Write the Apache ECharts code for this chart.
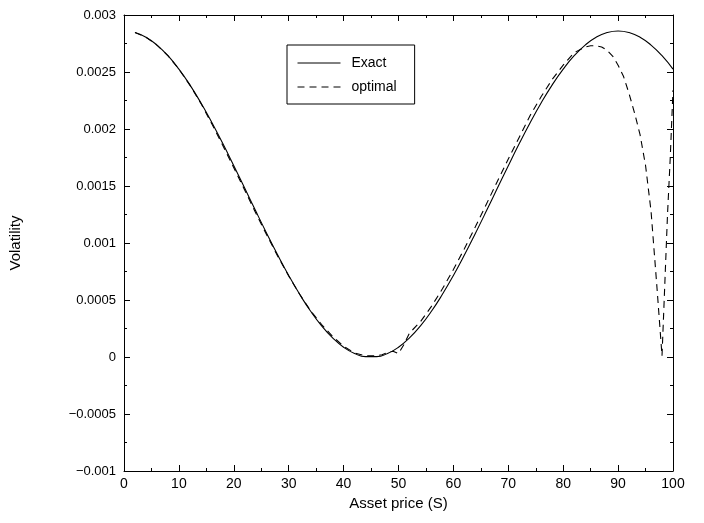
<!DOCTYPE html>
<html>
<head>
<meta charset="utf-8">
<script src="https://cdn.jsdelivr.net/npm/echarts@6/dist/echarts.min.js"></script>
<style>html,body{margin:0;padding:0;background:#fff}#c{width:704px;height:523px}</style>
</head>
<body>
<div id="c"></div>
<script>
var exactX = [2,4,6,8,10,12,14,16,18,20,22,24,26,28,30,32,34,36,38,40,42,44,46,48,50,52,54,56,58,60,62,64,66,68,70,72,74,76,78,80,82,84,86,88,90,92,94,96,98,100];
var exactY = [0.002846,0.002805,0.002736,0.002643,0.002525,0.002387,0.002230,0.002057,0.001872,0.001678,0.001480,0.001280,0.001084,0.000894,0.000715,0.000550,0.000401,0.000273,0.000167,0.000086,0.000031,0.000003,0.000003,0.000031,0.000086,0.000167,0.000273,0.000401,0.000550,0.000715,0.000894,0.001084,0.001280,0.001480,0.001678,0.001872,0.002057,0.002230,0.002387,0.002525,0.002643,0.002736,0.002805,0.002846,0.002860,0.002846,0.002805,0.002736,0.002643,0.002525];
var optX = [2,4,6,8,10,12,14,16,18,20,22,24,26,28,30,32,34,36,38,40,42,44,46,47,48,49,50,51,52,54,56,58,60,62,64,66,68,70,72,74,76,78,80,82,84,85,86,87,88,89,90,91,92,93,94,95,96,97,98,99,99.5,100];
var optY = [0.002846,0.002805,0.002736,0.002643,0.002525,0.002385,0.002225,0.002045,0.001855,0.001660,0.001462,0.001264,0.001070,0.000884,0.000710,0.000550,0.000405,0.000285,0.000180,0.000095,0.000035,0.000010,0.000010,0.000020,0.000040,0.000050,0.000030,0.000110,0.000210,0.000310,0.000444,0.000598,0.000767,0.000950,0.001142,0.001340,0.001540,0.001737,0.001928,0.002120,0.002285,0.002435,0.002560,0.002670,0.002720,0.002730,0.002730,0.002720,0.002690,0.002640,0.002560,0.002460,0.002310,0.002140,0.001950,0.001680,0.001280,0.000660,0.000010,0.001250,0.001750,0.002340];
var seriesNames = ['Exact', 'optimal'];
var yTickLabels = {'0.003':'0.003','0.0025':'0.0025','0.002':'0.002','0.0015':'0.0015','0.001':'0.001','0.0005':'0.0005','0':'0','-0.0005':'\u22120.0005','-0.001':'\u22120.001'};

function pairs(xs, ys){ return xs.map(function(x,i){ return [x, ys[i]]; }); }

var chart = echarts.init(document.getElementById('c'), null, {renderer:'canvas'});
function axisCommon(){
  return {
    axisLine:{show:true,onZero:false,lineStyle:{color:'#000',width:1}},
    axisTick:{show:true,inside:true,length:6,lineStyle:{color:'#000'}},
    minorTick:{show:true,splitNumber:2,length:3,lineStyle:{color:'#000'}},
    splitLine:{show:false}
  };
}
var font = 'Liberation Sans, Arial, sans-serif';
chart.setOption({
  animation:false,
  backgroundColor:'#fff',
  grid:{left:124,right:31,top:15,bottom:52},
  legend:{
    data:seriesNames,
    orient:'vertical',
    left:287, top:45,
    padding:[11,18,10,10],
    itemWidth:43, itemHeight:12, itemGap:10,
    borderColor:'#000', borderWidth:1,
    itemStyle:{opacity:0, color:'rgba(0,0,0,0)', borderWidth:0},
    lineStyle:{width:1},
    textStyle:{fontFamily:font,fontSize:14,color:'#000',padding:[0,0,0,6]}
  },
  xAxis:[
    Object.assign(axisCommon(), {type:'value',min:0,max:100,interval:10,
      name:'Asset price (S)',nameLocation:'middle',nameGap:22,
      nameTextStyle:{fontFamily:font,fontSize:15,color:'#000'},
      axisLabel:{fontFamily:font,fontSize:14,color:'#000',margin:6}}),
    Object.assign(axisCommon(), {type:'value',min:0,max:100,interval:10,position:'top',axisLabel:{show:false}})
  ],
  yAxis:[
    Object.assign(axisCommon(), {type:'value',min:-0.001,max:0.003,interval:0.0005,
      name:'Volatility',nameLocation:'middle',nameGap:101,
      nameTextStyle:{fontFamily:font,fontSize:15,color:'#000'},
      axisLabel:{fontFamily:font,fontSize:13,color:'#000',margin:8,
        formatter:function(v){ var k = String(+v.toFixed(4)); return yTickLabels[k] !== undefined ? yTickLabels[k] : k; }}}),
    Object.assign(axisCommon(), {type:'value',min:-0.001,max:0.003,interval:0.0005,position:'right',axisLabel:{show:false}})
  ],
  series:[
    {name:seriesNames[0],type:'line',data:pairs(exactX,exactY),showSymbol:false,symbol:'none',smooth:true,
      lineStyle:{color:'#000',width:1.1},itemStyle:{color:'#000'}},
    {name:seriesNames[1],type:'line',data:pairs(optX,optY),showSymbol:false,symbol:'none',smooth:false,
      lineStyle:{color:'#000',width:1.1,type:[7,5]},itemStyle:{color:'#000'}}
  ]
});
</script>
</body>
</html>
